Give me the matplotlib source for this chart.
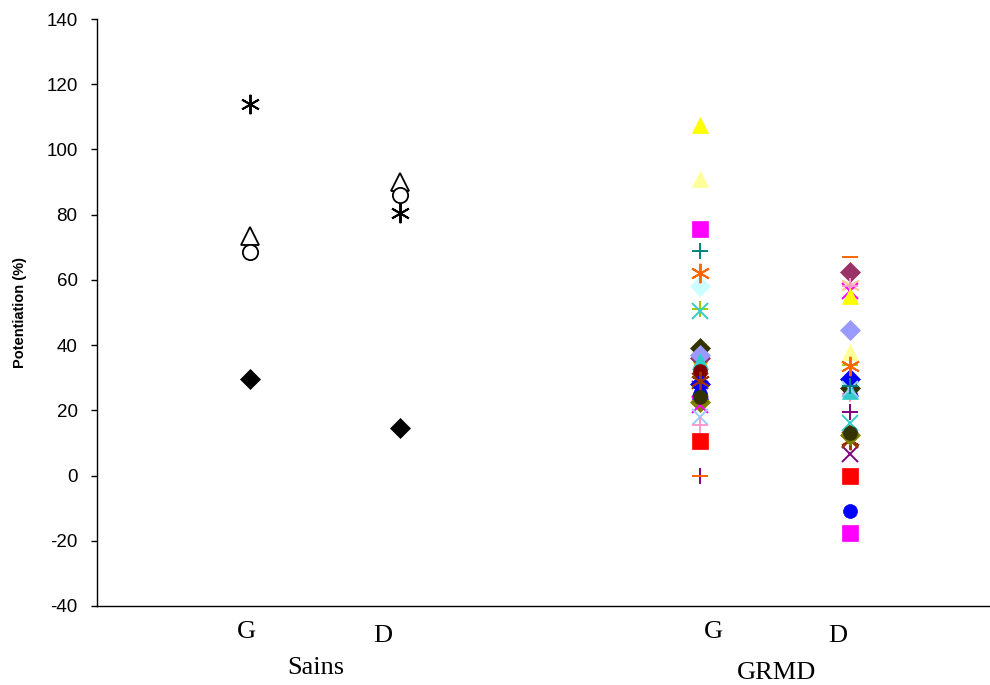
import matplotlib
matplotlib.use("Agg")
import matplotlib.pyplot as plt

# ---- data ----
groups = ["Sains", "GRMD"]
sides = ["G", "D"]
x_sains = [1, 2]
x_grmd = [4, 5]

# Sains (healthy) series: values at G and D
sains_labels = ["diamond", "triangle", "circle", "star"]
sains_G = [29.5, 73.5, 68.5, 114.0]
sains_D = [14.5, 90.0, 86.0, 80.5]
sains_markers = ["D", "^", "o", (6, 2, 0)]
sains_fill = ["black", "white", "white", "black"]

# GRMD series (one per animal): values at G and D (listed back to front)
grmd_G = [35.0, 38.0, 26.5, 22.0, 36.0, 29.0, 51.0, 58.0, 26.0, 39.0, 37.0,
          35.0, 32.0, 28.0, 25.0, 29.0, 22.5, 21.5, 18.0, 15.5, 10.5, 0.0,
          0.0, 107.5, 91.0, 75.5, 69.0, 62.0, 50.5, 24.0]
grmd_D = [25.5, 58.5, 6.5, 25.0, 62.5, 11.0, 34.0, 28.0, 27.0, 27.0, 44.5,
          26.0, 13.5, 29.5, -11.0, 11.0, 12.5, 56.5, 26.5, 58.0, 0.0, 19.5,
          67.0, 55.0, 38.0, -17.5, 27.5, 33.5, 16.0, 13.0]
grmd_colors = ["#FFCC00", "#FFCC99", "#800080", "#FF99CC", "#993366", "#993300",
               "#99CC00", "#CCFFFF", "#0000FF", "#333300", "#9999FF", "#33CCCC",
               "#800000", "#0000FF", "#0000FF", "#993300", "#808000", "#FF00FF",
               "#99CCFF", "#FF99CC", "#FF0000", "#800080", "#FF6600", "#FFFF00",
               "#FFFF99", "#FF00FF", "#008080", "#FF6600", "#33CCCC", "#333300"]
grmd_markers = ["o", (6, 2, 0), "x", "+", "D", "x", "+", "D", "^", "D", "D",
                "^", "o", "D", "o", (6, 2, 0), "D", "x", "x", "+", "s", "+",
                "_", "^", "^", "s", "+", (6, 2, 0), "x", "o"]

yticks = list(range(-40, 141, 20))

# ---- figure ----
W, H = 990, 685
fig = plt.figure(figsize=(W / 100, H / 100), dpi=100)
ax = fig.add_axes([97 / W, 1 - 606 / H, (990 - 97) / W, (606 - 19) / H])

def draw(x, y, m, c, fill, z=3):
    if m in ("+", "x", "_") or isinstance(m, tuple):
        ax.plot(x, y, linestyle="none", marker=m,
                markersize=14 if isinstance(m, tuple) else 12,
                markeredgecolor=c, markeredgewidth=1.4, zorder=z)
    else:
        if fill == "white":
            size = {"^": 13, "o": 11}[m]
        else:
            size = {"D": 10, "o": 10, "^": 11, "s": 11}[m]
        ax.plot(x, y, linestyle="none", marker=m, markersize=size,
                markerfacecolor=fill, markeredgecolor=c,
                markeredgewidth=1.3 if fill == "white" else 0.5, zorder=z)

for g, d, m, f in zip(sains_G, sains_D, sains_markers, sains_fill):
    draw(x_sains, [g, d], m, "black", f)

for g, d, m, c in zip(grmd_G, grmd_D, grmd_markers, grmd_colors):
    draw(x_grmd, [g, d], m, c, c)

ax.set_xlim(-0.02, 5.93)
ax.set_ylim(-40, 140)
ax.set_yticks(yticks)
ax.set_yticklabels([str(v) for v in yticks], fontsize=13.5, family="Liberation Sans")
ax.set_xticks([])
ax.tick_params(axis="y", direction="out", length=4, width=1, pad=10)
for s in ("top", "right"):
    ax.spines[s].set_visible(False)
for s in ("left", "bottom"):
    ax.spines[s].set_linewidth(1.0)
ax.set_ylabel("Potentiation (%)", fontsize=10.5, fontweight="bold",
              family="Liberation Sans", labelpad=14)

def ftext(px, py, s, size):
    fig.text(px / W, 1 - py / H, s, ha="center", va="center",
             fontsize=size, family="Liberation Serif")

ftext(246, 632, sides[0], 19)
ftext(383, 636, sides[1], 19)
ftext(316, 668, groups[0], 19)
ftext(713, 632, sides[0], 19)
ftext(838, 636, sides[1], 19)
ftext(776, 673, groups[1], 19)

fig.savefig("out.png", dpi=100)
